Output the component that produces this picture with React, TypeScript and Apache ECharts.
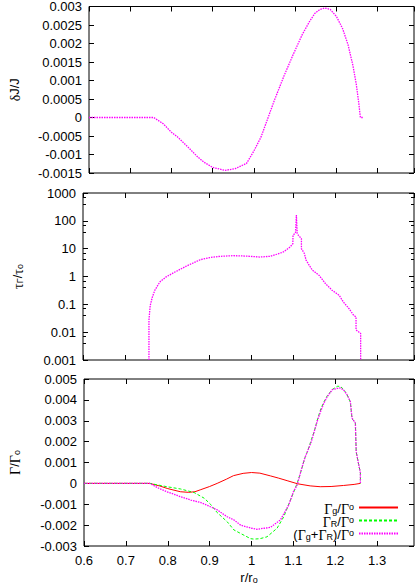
import React, { useEffect, useRef } from "react";
import * as echarts from "echarts";

// ---- Panel 1: δJ/J ----
const dJr = [0.6, 0.757, 0.78, 0.8, 0.815, 0.84, 0.863, 0.879, 0.9, 0.93, 0.955, 0.982, 1.0, 1.017, 1.049, 1.073, 1.095, 1.117, 1.135, 1.148, 1.16, 1.172, 1.185, 1.2, 1.215, 1.228, 1.24, 1.248, 1.254, 1.258, 1.264];
const dJv = [0, 0, -0.00017, -0.0004, -0.00053, -0.0008, -0.00106, -0.00121, -0.00135, -0.00143, -0.00138, -0.00124, -0.0009, -0.00053, 0.00045, 0.00113, 0.0017, 0.00224, 0.0026, 0.00282, 0.00292, 0.00296, 0.00292, 0.00273, 0.0024, 0.00197, 0.0014, 0.0009, 0.0004, 0, 0];

// ---- Panel 2: τΓ/τo (log) ----
const tauR = [0.757, 0.757, 0.76, 0.765, 0.771, 0.783, 0.798, 0.815, 0.831, 0.847, 0.863, 0.879, 0.902, 0.926, 0.958, 0.99, 1.021, 1.045, 1.061, 1.077, 1.093, 1.0995, 1.1, 1.106, 1.108, 1.11, 1.113, 1.12, 1.12, 1.127, 1.131, 1.138, 1.146, 1.162, 1.177, 1.193, 1.21, 1.22, 1.233, 1.244, 1.25, 1.25, 1.256, 1.261, 1.261];
const tauV = [0.001, 0.027, 0.09, 0.18, 0.32, 0.64, 0.97, 1.35, 1.8, 2.4, 3.1, 4.0, 4.8, 5.3, 5.6, 5.4, 5.0, 5.3, 6.3, 7.6, 11.5, 15, 30, 38, 160, 35, 30, 23, 10, 6.7, 3.9, 2.6, 1.7, 1.1, 0.56, 0.32, 0.21, 0.12, 0.071, 0.041, 0.035, 0.012, 0.0103, 0.009, 0.001];

// ---- Panel 3: Γ/Γo ----
const gR = [0.6, 0.757, 0.78, 0.8, 0.83, 0.85, 0.865, 0.879, 0.9, 0.918, 0.94, 0.957, 0.98, 1.0, 1.02, 1.045, 1.065, 1.085, 1.11, 1.14, 1.164, 1.19, 1.22, 1.245, 1.26];
const gV = [0, 0, -0.00012, -0.00025, -0.0004, -0.00043, -0.0004, -0.0003, -0.00015, 0, 0.0002, 0.00037, 0.00048, 0.00052, 0.00049, 0.00036, 0.00025, 0.00013, -0.00002, -0.00012, -0.00016, -0.00015, -0.0001, -0.00005, 0];

const rR = [0.6, 0.757, 0.798, 0.831, 0.863, 0.887, 0.902, 0.918, 0.942, 0.958, 0.974, 0.998, 1.006, 1.02, 1.037, 1.061, 1.077, 1.093, 1.109, 1.12, 1.127, 1.135, 1.143, 1.15, 1.158, 1.166, 1.173, 1.181, 1.193, 1.205, 1.212, 1.22, 1.228, 1.236, 1.24, 1.248, 1.25, 1.256, 1.26, 1.26];
const rV = [0, 0, -0.00016, -0.00027, -0.00044, -0.00071, -0.001, -0.0014, -0.00184, -0.00223, -0.0024, -0.00265, -0.00267, -0.00265, -0.00256, -0.00215, -0.0016, -0.0008, 0, 0.0007, 0.0012, 0.0016, 0.0021, 0.0025, 0.0031, 0.0036, 0.0039, 0.0042, 0.0045, 0.00465, 0.00465, 0.0045, 0.00425, 0.0039, 0.0031, 0.0029, 0.0015, 0.0009, 0.0005, 0];

const sR = [0.6, 0.757, 0.78, 0.798, 0.831, 0.855, 0.879, 0.902, 0.918, 0.942, 0.958, 0.974, 1.0, 1.013, 1.03, 1.045, 1.069, 1.089, 1.1, 1.109, 1.12, 1.127, 1.135, 1.143, 1.15, 1.158, 1.166, 1.173, 1.181, 1.193, 1.205, 1.212, 1.22, 1.228, 1.236, 1.24, 1.248, 1.25, 1.256, 1.26, 1.26];
const sV = [0, 0, -0.00025, -0.0004, -0.00064, -0.0008, -0.00092, -0.00112, -0.00127, -0.0016, -0.00175, -0.002, -0.00215, -0.0022, -0.00215, -0.00211, -0.00175, -0.00103, -0.0004, -0.00008, 0.00073, 0.0012, 0.0016, 0.002, 0.0025, 0.00305, 0.0035, 0.00385, 0.00416, 0.00449, 0.00455, 0.00457, 0.00447, 0.00425, 0.00392, 0.00313, 0.00289, 0.00152, 0.00089, 0.0005, 0];

const seriesNames = ["Γg/Γo", "ΓR/Γo", "(Γg+ΓR)/Γo"];
const legendRich = [
  "{g|Γ}{b|g}{n|/}{g|Γ}{p|o}",
  "{g|Γ}{b|R}{n|/}{g|Γ}{p|o}",
  "{n|(}{g|Γ}{b|g}{n|+}{g|Γ}{b|R}{n|)/}{g|Γ}{p|o}",
];

const X_MIN = 0.6;
const X_MAX = 1.388;

const pairs = (xs: number[], ys: number[]) => xs.map((x, i) => [x, ys[i]]);

const rich: any = {
  n: { fontFamily: "Liberation Sans", fontSize: 13, lineHeight: 11, verticalAlign: "top", color: "#000" },
  g: { fontFamily: "Liberation Serif", fontSize: 14, lineHeight: 11, verticalAlign: "top", color: "#000" },
  b: { fontFamily: "Liberation Sans", fontSize: 9, lineHeight: 7, verticalAlign: "top", padding: [4, 0, 0, 0], color: "#000" },
  p: { fontFamily: "Liberation Sans", fontSize: 9, lineHeight: 7, verticalAlign: "top", color: "#000" },
};

const fmt = (v: number) => String(+Number(v).toPrecision(4));

export default function App() {
  const ref = useRef<HTMLDivElement>(null);
  useEffect(() => {
    if (!ref.current) return;
    const chart = echarts.init(ref.current, undefined, { renderer: "svg" });
    const grids = [
      { left: 83, width: 331, top: 5, height: 168 },
      { left: 83, width: 331, top: 193, height: 167 },
      { left: 83, width: 331, top: 379, height: 167 },
    ].map((g) => ({ ...g, show: true, borderColor: "#000", borderWidth: 1, backgroundColor: "transparent" }));

    const tick = { show: true, inside: true, length: 5, lineStyle: { color: "#000", width: 1 } };
    const labelStyle = { color: "#000", fontFamily: "Liberation Sans", fontSize: 13 };
    const noLine = { show: false, onZero: false };

    const xAxes: any[] = [];
    for (let i = 0; i < 3; i++) {
      xAxes.push({
        type: "value",
        gridIndex: i,
        min: X_MIN,
        max: X_MAX,
        interval: 0.1,
        position: "bottom",
        axisLine: noLine,
        axisTick: tick,
        splitLine: { show: false },
        axisLabel: {
          show: i === 2,
          ...labelStyle,
          margin: 8,
          showMaxLabel: false,
          formatter: (v: number) => (Math.abs(v * 10 - Math.round(v * 10)) < 1e-6 ? fmt(v) : ""),
        },
        name: i === 2 ? "{n|r/r}{b|o}" : "",
        nameLocation: "middle",
        nameGap: 25,
        nameTextStyle: { rich },
      });
    }
    for (let i = 0; i < 3; i++) {
      xAxes.push({
        type: "value",
        gridIndex: i,
        min: X_MIN,
        max: X_MAX,
        interval: 0.1,
        position: "top",
        axisLine: noLine,
        axisTick: tick,
        splitLine: { show: false },
        axisLabel: { show: false },
      });
    }

    const yNames = ["{g|δ}{n|J/J}", "{g|τ}{b|Γ}{n|/}{g|τ}{b|o}", "{g|Γ}{n|/}{g|Γ}{b|o}"];
    const yGaps = [70, 61, 65];
    const yCfg: any[] = [
      { type: "value", min: -0.0015, max: 0.003, interval: 0.0005 },
      { type: "log", logBase: 10, min: 0.001, max: 1000, splitNumber: 6 },
      { type: "value", min: -0.003, max: 0.005, interval: 0.001 },
    ];
    const yAxes: any[] = [];
    for (let i = 0; i < 3; i++) {
      yAxes.push({
        ...yCfg[i],
        gridIndex: i,
        position: "left",
        axisLine: noLine,
        axisTick: tick,
        minorTick: i === 1 ? { show: true, splitNumber: 3, length: 3, lineStyle: { color: "#000" } } : { show: false },
        splitLine: { show: false },
        axisLabel: { ...labelStyle, margin: 7, formatter: (v: number) => fmt(v) },
        name: yNames[i],
        nameLocation: "middle",
        nameRotate: 90,
        nameGap: yGaps[i],
        nameTextStyle: { rich },
      });
    }
    for (let i = 0; i < 3; i++) {
      yAxes.push({
        ...yCfg[i],
        gridIndex: i,
        position: "right",
        axisLine: noLine,
        axisTick: tick,
        minorTick: i === 1 ? { show: true, splitNumber: 3, length: 3, lineStyle: { color: "#000" } } : { show: false },
        splitLine: { show: false },
        axisLabel: { show: false },
      });
    }

    const magenta = { color: "#ff00ff", width: 1.3, type: [1.5, 1] as any };
    const series: any[] = [
      { type: "line", xAxisIndex: 0, yAxisIndex: 0, data: pairs(dJr, dJv), symbol: "none", lineStyle: magenta, silent: true },
      { type: "line", xAxisIndex: 1, yAxisIndex: 1, data: pairs(tauR, tauV), symbol: "none", lineStyle: magenta, silent: true },
      { name: seriesNames[0], type: "line", xAxisIndex: 2, yAxisIndex: 2, data: pairs(gR, gV), symbol: "none", itemStyle: { color: "#ff0000" }, lineStyle: { color: "#ff0000", width: 1 }, silent: true },
      { name: seriesNames[1], type: "line", xAxisIndex: 2, yAxisIndex: 2, data: pairs(rR, rV), symbol: "none", itemStyle: { color: "#00ff00" }, lineStyle: { color: "#00ff00", width: 1, type: [3, 2] }, silent: true },
      { name: seriesNames[2], type: "line", xAxisIndex: 2, yAxisIndex: 2, data: pairs(sR, sV), symbol: "none", itemStyle: { color: "#ff00ff" }, lineStyle: magenta, silent: true },
    ];

    const legendTops = [502, 515, 528];
    const legends = seriesNames.map((n, i) => ({
      data: [n],
      right: 16,
      top: legendTops[i],
      orient: "vertical",
      align: "right",
      itemWidth: 39,
      itemHeight: 8,
      padding: 0,
      itemGap: 0,
      selectedMode: false,
      itemStyle: { opacity: 0 },
      formatter: () => legendRich[i],
      textStyle: { rich },
    }));

    chart.setOption({
      animation: false,
      backgroundColor: "#fff",
      grid: grids,
      xAxis: xAxes,
      yAxis: yAxes,
      legend: legends,
      series,
    });
    return () => chart.dispose();
  }, []);
  return <div ref={ref} style={{ position: "absolute", left: 0, top: 0, width: 415, height: 587 }} />;
}
